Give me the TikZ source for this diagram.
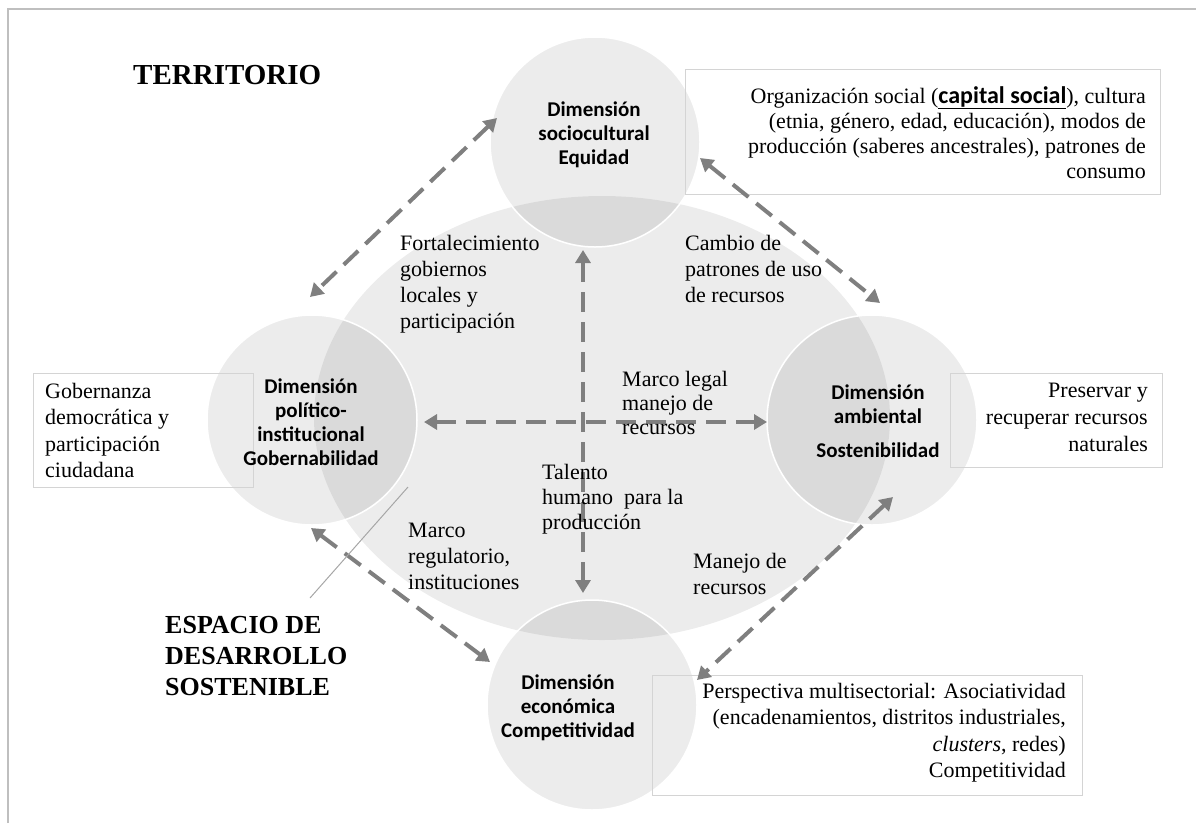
\documentclass[tikz,border=0pt]{standalone}
\usepackage{fontspec}
\setmainfont{Liberation Serif}
\newfontfamily\calfont{Carlito}
\usetikzlibrary{arrows.meta,calc,shapes.geometric}

\definecolor{arrowgray}{HTML}{7F7F7F}
\definecolor{framegray}{HTML}{BFBFBF}
\definecolor{boxgray}{HTML}{D4D4D4}
\definecolor{pointergray}{HTML}{A6A6A6}

\begin{document}
\begin{tikzpicture}[x=1pt,y=-1pt,
  shade disc/.style={fill=black,fill opacity=0.075},
  dimension/.style={circle,minimum size=210pt,inner sep=0pt,shade disc,
    draw=white,draw opacity=1,line width=1.5pt},
  dimtext/.style={font=\calfont\bfseries\fontsize{21}{24}\selectfont,align=center,inner sep=0pt},
  serif/.style={font=\fontsize{22}{25}\selectfont,inner sep=0pt},
  infobox/.style={draw=boxgray,line width=0.8pt,inner sep=0pt,anchor=north west},
  dimarrow/.style={draw=arrowgray,line width=4pt,dash pattern=on 20pt off 10pt,
    {Triangle[length=13pt,width=15pt]}-{Triangle[length=13pt,width=15pt]}},
  headline/.style={font=\bfseries\fontsize{29}{32}\selectfont,inner sep=0pt},
  spaceline/.style={font=\bfseries\fontsize{26}{31}\selectfont,inner sep=0pt,align=left}
]
\useasboundingbox (0,0) rectangle (1196,823);

% frame (top and left edges)
\draw[framegray,line width=2pt] (8,823) -- (8,9) -- (1196,9);

% sustainable development space
\node[ellipse,minimum width=576pt,minimum height=444pt,inner sep=0pt,shade disc] (space) at (602,418) {};

% the four dimensions
\node[dimension] (T) at (595,142) {};
\node[dimension] (L) at (312,420) {};
\node[dimension] (R) at (872,420) {};
\node[dimension] (B) at (592,705) {};

% description boxes
\node[infobox,minimum width=475pt,minimum height=125pt] (boxT) at (685,69) {};
\node[infobox,minimum width=220pt,minimum height=114pt] (boxL) at (33,373) {};
\node[infobox,minimum width=212pt,minimum height=94pt] (boxR) at (950,373) {};
\node[infobox,minimum width=430pt,minimum height=120pt] (boxB) at (652,675) {};

% end points of the relations, just outside each dimension
\coordinate (T-L) at ($(T.center)+(-98,-24)$);
\coordinate (L-T) at ($(L.center)+(-2,-123)$);
\coordinate (T-R) at ($(T.center)+(105,16)$);
\coordinate (R-T) at ($(R.center)+(8,-117)$);
\coordinate (L-B) at ($(L.center)+(-1,108)$);
\coordinate (B-L) at ($(B.center)+(-102,-43)$);
\coordinate (R-B) at ($(R.center)+(21,77)$);
\coordinate (B-R) at ($(B.center)+(105,-25)$);
\coordinate (L-R) at ($(L.center)+(112,2)$);
\coordinate (R-L) at ($(R.center)+(-105,2)$);
\coordinate (T-B) at ($(T.center)+(-12,108)$);
\coordinate (B-T) at ($(B.center)+(-9,-112)$);

% dashed relations between dimensions
\draw[dimarrow] (T-L) -- (L-T);
\draw[dimarrow] (T-R) -- (R-T);
\draw[dimarrow] (L-B) -- (B-L);
\draw[dimarrow] (R-B) -- (B-R);
\draw[dimarrow] (L-R) -- (R-L);
\draw[dimarrow] (T-B) -- (B-T);

% dimension titles
\node[dimtext] (tT) at (594,135) {Dimensión\\sociocultural\\Equidad};
\node[dimtext] (tL) at (311,422) {Dimensión\\político-\\institucional\\Gobernabilidad};
\node[dimtext] (tR) at (878,421) {Dimensión\\ambiental\\[10pt]Sostenibilidad};
\node[dimtext] (tB) at (568,708) {Dimensión\\económica\\Competitividad};

% box texts
\node[serif,align=right,anchor=north east] (dT) at (1146,86)
  {Organización social (\underline{\calfont\bfseries\fontsize{24}{25}\selectfont capital social}), cultura\\
   (etnia, género, edad, educación), modos de\\
   producción (saberes ancestrales), patrones de\\
   consumo};
\node[serif,align=left,anchor=north west,font=\fontsize{22}{26.5}\selectfont] (dL) at (45,383)
  {Gobernanza\\democrática y\\participación\\ciudadana};
\node[serif,align=right,anchor=north east,font=\fontsize{22}{27}\selectfont] (dR) at (1148,383)
  {Preservar y\\recuperar recursos\\naturales};
\node[serif,align=right,anchor=north east,font=\fontsize{22}{26.5}\selectfont] (dB) at (1066,683)
  {Perspectiva multisectorial: Asociatividad\\
   (encadenamientos, distritos industriales,\\
   \textit{clusters}, redes)\\
   Competitividad};

% relation labels
\node[serif,align=left,anchor=north west,font=\fontsize{22}{26}\selectfont] (lTL) at (400,235)
  {Fortalecimiento\\gobiernos\\locales y\\participación};
\node[serif,align=left,anchor=north west,font=\fontsize{22}{26}\selectfont] (lTR) at (685,235)
  {Cambio de\\patrones de uso\\de recursos};
\node[serif,align=left,anchor=north west,font=\fontsize{22}{24}\selectfont] (lLR) at (622,371)
  {Marco legal\\manejo de\\recursos};
\node[serif,align=left,anchor=north west] (lTB) at (542,464)
  {Talento\\humano\ \ para la\\producción};
\node[serif,align=left,anchor=north west,font=\fontsize{22}{26}\selectfont] (lRB) at (693,553)
  {Manejo de\\recursos};
\node[serif,align=left,anchor=north west,font=\fontsize{22}{26}\selectfont] (lLB) at (408,523)
  {Marco\\regulatorio,\\instituciones};

% headings
\node[headline,anchor=north west] (territory) at (133,65) {TERRITORIO};
\node[spaceline,anchor=north west] (spacelabel) at (165,616) {ESPACIO DE\\DESARROLLO\\SOSTENIBLE};
\coordinate (pointerstart) at (310,598);
\coordinate (spacepoint) at (408,487);
\draw[pointergray,line width=1pt] (pointerstart) -- (spacepoint);
\end{tikzpicture}
\end{document}
